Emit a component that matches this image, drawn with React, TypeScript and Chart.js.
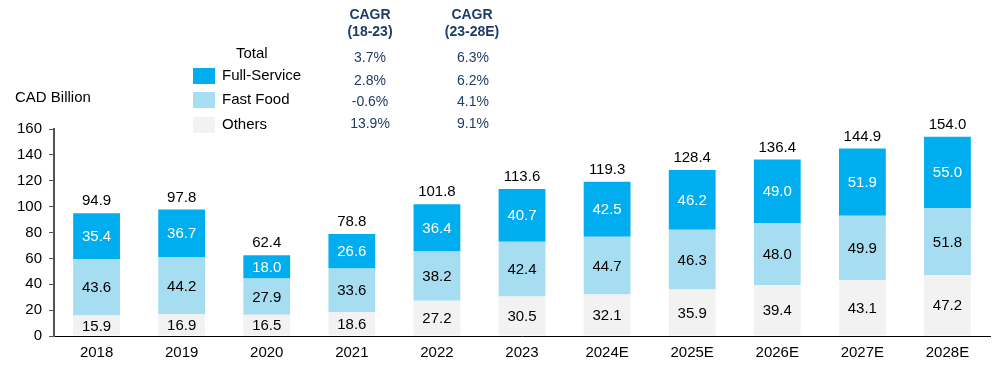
import React, { useEffect, useRef } from "react";
import { Chart, registerables } from "chart.js";
Chart.register(...registerables);

const categories = ["2018", "2019", "2020", "2021", "2022", "2023", "2024E", "2025E", "2026E", "2027E", "2028E"];
const others = [15.9, 16.9, 16.5, 18.6, 27.2, 30.5, 32.1, 35.9, 39.4, 43.1, 47.2];
const fastFood = [43.6, 44.2, 27.9, 33.6, 38.2, 42.4, 44.7, 46.3, 48.0, 49.9, 51.8];
const fullService = [35.4, 36.7, 18.0, 26.6, 36.4, 40.7, 42.5, 46.2, 49.0, 51.9, 55.0];
const totals = [94.9, 97.8, 62.4, 78.8, 101.8, 113.6, 119.3, 128.4, 136.4, 144.9, 154.0];
const yTicks = [0, 20, 40, 60, 80, 100, 120, 140, 160];

const legendRows = ["Total", "Full-Service", "Fast Food", "Others"];
const cagr1823 = ["3.7%", "2.8%", "-0.6%", "13.9%"];
const cagr2328 = ["6.3%", "6.2%", "4.1%", "9.1%"];

const C_FULL = "#00AEEF";
const C_FAST = "#A7DDF0";
const C_OTHER = "#F2F2F2";
const C_CAGR = "#1F3C64";
const FONT = "'Liberation Sans', Arial, sans-serif";

export default function App() {
  const ref = useRef<HTMLCanvasElement | null>(null);
  useEffect(() => {
    document.body.style.margin = "0";
    const labelPlugin = {
      id: "labels",
      afterDatasetsDraw(chart: any) {
        const ctx = chart.ctx;
        ctx.save();
        ctx.font = `15px ${FONT}`;
        ctx.textAlign = "center";
        ctx.textBaseline = "middle";
        chart.data.datasets.forEach((ds: any, di: number) => {
          const meta = chart.getDatasetMeta(di);
          meta.data.forEach((bar: any, i: number) => {
            const y = (bar.y + bar.base) / 2;
            ctx.fillStyle = di === 2 ? "#FFFFFF" : "#000000";
            ctx.fillText(ds.data[i].toFixed(1), bar.x, y + 1);
          });
        });
        const top = chart.getDatasetMeta(2);
        ctx.fillStyle = "#000000";
        top.data.forEach((bar: any, i: number) => {
          ctx.fillText(totals[i].toFixed(1), bar.x, bar.y - 12);
        });
        ctx.restore();
      },
      afterDraw(chart: any) {
        const ctx = chart.ctx;
        ctx.save();
        ctx.textBaseline = "middle";
        ctx.fillStyle = "#000";
        ctx.font = `15px ${FONT}`;
        ctx.textAlign = "left";
        ctx.fillText("CAD Billion", 15, 98);
        // legend
        const rowsY = [54, 76, 100, 125];
        const colors = [null, C_FULL, C_FAST, C_OTHER];
        ctx.fillText(legendRows[0], 236, rowsY[0]);
        for (let r = 1; r < 4; r++) {
          ctx.fillStyle = colors[r] as string;
          ctx.fillRect(193, rowsY[r] - 8, 22, 16);
          ctx.fillStyle = "#000";
          ctx.fillText(legendRows[r], 222, rowsY[r]);
        }
        // CAGR
        ctx.textAlign = "center";
        ctx.fillStyle = C_CAGR;
        ctx.font = `bold 14px ${FONT}`;
        ctx.fillText("CAGR", 370, 15);
        ctx.fillText("(18-23)", 370, 32);
        ctx.fillText("CAGR", 472, 15);
        ctx.fillText("(23-28E)", 472, 32);
        ctx.font = `14px ${FONT}`;
        const cy = [58, 81, 102, 124];
        for (let r = 0; r < 4; r++) {
          ctx.fillText(cagr1823[r], 370, cy[r]);
          ctx.fillText(cagr2328[r], 473, cy[r]);
        }
        ctx.restore();
      },
    };
    const chart = new Chart(ref.current as HTMLCanvasElement, {
      type: "bar",
      data: {
        labels: categories,
        datasets: [
          { label: "Others", data: others, backgroundColor: C_OTHER, borderWidth: 0 },
          { label: "Fast Food", data: fastFood, backgroundColor: C_FAST, borderWidth: 0 },
          { label: "Full-Service", data: fullService, backgroundColor: C_FULL, borderWidth: 0 },
        ],
      },
      options: {
        animation: false,
        responsive: false,
        maintainAspectRatio: false,
        layout: { padding: { top: 129, left: 10, right: 10, bottom: 8 } },
        datasets: { bar: { categoryPercentage: 1, barPercentage: 0.55 } },
        plugins: { legend: { display: false }, tooltip: { enabled: false } },
        scales: {
          x: {
            stacked: true,
            grid: { display: false },
            border: { display: true, color: "#000", width: 1 },
            ticks: { color: "#000", font: { family: FONT, size: 15 }, padding: 0 },
          },
          y: {
            stacked: true,
            min: 0,
            max: 160,
            afterBuildTicks(scale: any) {
              scale.ticks = yTicks.map((v) => ({ value: v }));
            },
            grid: { drawOnChartArea: false, drawTicks: true, tickLength: 5, color: "#555" },
            border: { display: true, color: "#555", width: 2 },
            ticks: { color: "#000", font: { family: FONT, size: 15 }, padding: 7 },
          },
        },
      },
      plugins: [labelPlugin],
    });
    return () => chart.destroy();
  }, []);
  return (
    <div style={{ position: "absolute", left: 0, top: 0, width: 1000, height: 370 }}>
      <canvas ref={ref} width={1000} height={370} style={{ width: 1000, height: 370 }} />
    </div>
  );
}
